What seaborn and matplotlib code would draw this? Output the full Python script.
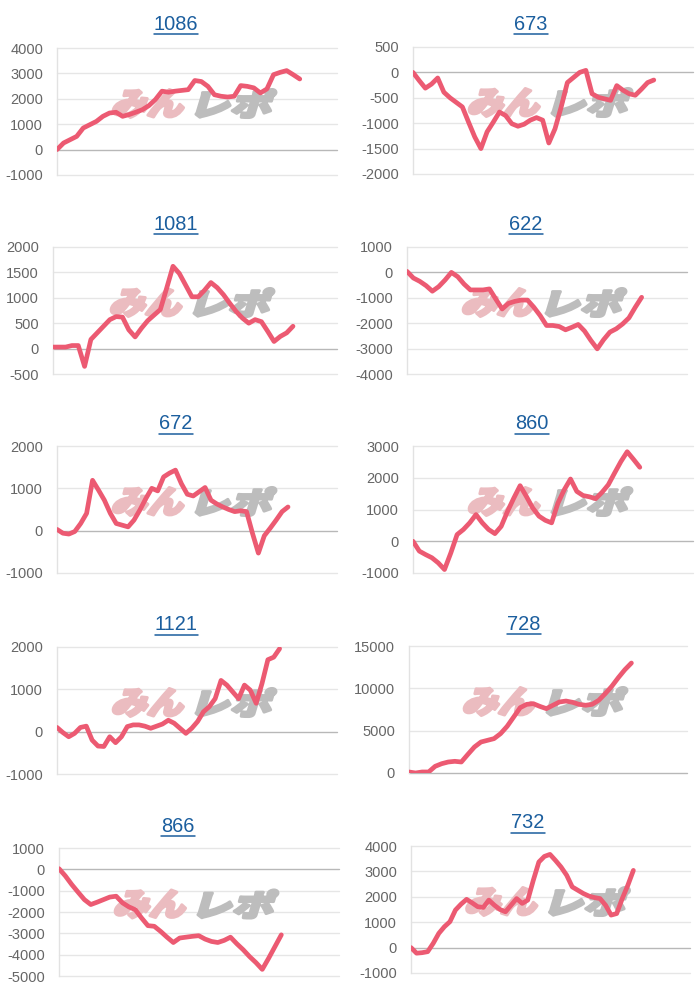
import numpy as np
import pandas as pd
import matplotlib
matplotlib.use("Agg")
import matplotlib.pyplot as plt
import seaborn as sns
from matplotlib.textpath import TextPath
from matplotlib.font_manager import FontProperties
from matplotlib.patches import PathPatch
from matplotlib.transforms import Affine2D, IdentityTransform
from matplotlib.lines import Line2D

# ---------------- data ----------------
titles = ["1086", "673", "1081", "622", "672", "860", "1121", "728", "866", "732"]

s1086 = [0, 260, 390, 520, 850, 980, 1110, 1310, 1440, 1470, 1310, 1380, 1470, 1570, 1730, 1970,
         2300, 2260, 2300, 2330, 2360, 2720, 2680, 2490, 2160, 2100, 2070, 2100, 2520, 2490, 2430,
         2230, 2390, 2950, 3040, 3110, 2950, 2780]
s673 = [0, -160, -310, -230, -110, -390, -500, -590, -680, -980, -1270, -1500, -1170, -980, -780,
        -850, -1010, -1060, -1020, -940, -890, -940, -1390, -1110, -680, -200, -100, 0, 40, -420,
        -490, -520, -550, -260, -350, -420, -450, -330, -200, -150]
s1081 = [30, 30, 30, 60, 60, -350, 180, 310, 440, 570, 630, 620, 370, 230, 400, 550, 660, 770, 1190,
         1620, 1480, 1250, 1020, 1020, 1150, 1300, 1200, 1060, 890, 730, 600, 500, 570, 530, 340,
         140, 240, 310, 440]
s622 = [40, -220, -350, -520, -740, -560, -300, 0, -170, -460, -690, -690, -690, -650, -1050, -1440,
        -1220, -1140, -1090, -1090, -1370, -1700, -2090, -2090, -2130, -2260, -2160, -2050, -2310,
        -2680, -3010, -2650, -2350, -2220, -2030, -1790, -1370, -980]
s672 = [30, -60, -80, -20, 170, 410, 1190, 960, 720, 410, 170, 130, 90, 250, 490, 760, 1000, 940,
        1270, 1360, 1430, 1110, 860, 820, 920, 1020, 720, 630, 560, 500, 450, 470, 450, -60, -530,
        -120, 60, 250, 450, 560]
s860 = [0, -310, -420, -520, -680, -890, -370, 210, 370, 580, 840, 580, 370, 240, 470, 940, 1360,
        1750, 1410, 1050, 790, 660, 580, 1200, 1620, 1960, 1570, 1440, 1400, 1340, 1540, 1780, 2150,
        2510, 2820, 2580, 2330]
s1121 = [100, -20, -120, -40, 100, 130, -200, -340, -350, -120, -260, -120, 120, 160, 160, 130, 80,
         130, 180, 270, 200, 80, -40, 80, 240, 470, 590, 780, 1210, 1100, 940, 780, 1100, 980, 670,
         1140, 1700, 1760, 1960]
s728 = [120, 0, 120, 120, 790, 1100, 1300, 1380, 1300, 2200, 3070, 3660, 3860, 4060, 4650, 5510,
        6610, 7720, 8110, 8190, 7870, 7600, 8000, 8390, 8500, 8350, 8110, 8000, 8110, 8580, 9370,
        10240, 11260, 12200, 12990]
s866 = [30, -310, -710, -1070, -1420, -1650, -1540, -1420, -1300, -1260, -1570, -1760, -1890, -2280,
        -2640, -2670, -2910, -3180, -3430, -3220, -3180, -3140, -3110, -3270, -3380, -3430, -3330,
        -3180, -3490, -3770, -4090, -4370, -4690, -4170, -3620, -3070]
s732 = [0, -220, -200, -160, 170, 560, 820, 1020, 1480, 1710, 1900, 1760, 1610, 1580, 1870, 1670,
        1500, 1410, 1670, 1930, 1740, 1870, 2650, 3370, 3590, 3670, 3430, 3170, 2850, 2390, 2260,
        2130, 2030, 1970, 1930, 1670, 1280, 1340, 1930, 2450, 3040]

series = [s1086, s673, s1081, s622, s672, s860, s1121, s728, s866, s732]

y_min = [-1000, -2000, -500, -4000, -1000, -1000, -1000, 0, -5000, -1000]
y_max = [4000, 500, 2000, 1000, 2000, 3000, 2000, 15000, 1000, 4000]
y_step = [1000, 500, 500, 1000, 1000, 1000, 1000, 5000, 1000, 1000]

# ---------------- layout (pixels: left, top, right, bottom) ----------------
boxes = [(57, 48, 337, 175), (413, 47, 693, 174),
         (53, 247, 337, 374), (407, 247, 687, 374),
         (57, 446, 337, 573), (413, 446, 693, 573),
         (57, 647, 337, 774), (409, 646, 687, 773),
         (59, 848, 339, 976), (411, 846, 690, 973)]
end_frac = [0.867, 0.86, 0.845, 0.838, 0.825, 0.81, 0.795, 0.80, 0.794, 0.797]
title_pos = [(176, 24), (531, 24), (176, 224), (526, 224), (176, 424), (532, 424),
             (176, 625), (524, 624), (178, 826), (528, 823)]

W, H = 700, 1000
LINE = "#EC5A72"
TITLE_C = "#1b5e9e"

sns.set_theme(style="white")
plt.rcParams["font.family"] = ["Liberation Sans", "DejaVu Sans"]

fig = plt.figure(figsize=(7, 10), dpi=100)
fig.patch.set_facecolor("white")

fp_wm = FontProperties(family="Noto Sans CJK JP", weight="heavy")


def add_wm(ax, text, x0, ytop, w, h, color):
    tp = TextPath((0, 0), text, size=100, prop=fp_wm)
    ext = tp.get_extents()
    shear = 0.3
    wi = w - h * shear
    tr = (Affine2D().translate(-ext.x0, -ext.y0)
          .scale(wi / ext.width, h / ext.height)
          .skew(np.arctan(shear), 0)
          .translate(x0, H - ytop - h))
    path = tr.transform_path(tp)
    p = PathPatch(path, facecolor=color, edgecolor=color, linewidth=2.2,
                  joinstyle="round", transform=IdentityTransform(), zorder=1)
    ax.add_artist(p)


titles_art = []
for i, (vals, box) in enumerate(zip(series, boxes)):
    l, t, r, b = box
    ax = fig.add_axes([l / W, 1 - b / H, (r - l) / W, (b - t) / H])
    df = pd.DataFrame({"x": np.arange(len(vals)), "y": vals})
    sns.lineplot(data=df, x="x", y="y", ax=ax, color=LINE, linewidth=3.4,
                 estimator=None, zorder=3, solid_joinstyle="round", solid_capstyle="round")
    n = len(vals)
    ax.set_xlim(0, (n - 1) / end_frac[i])
    ax.set_ylim(y_min[i], y_max[i])
    ticks = np.arange(y_min[i], y_max[i] + 1, y_step[i])
    ax.set_yticks(ticks)
    ax.set_yticklabels([f"{int(v)}" for v in ticks])
    ax.set_xticks([])
    ax.set_xlabel("")
    ax.set_ylabel("")
    ax.tick_params(axis="y", length=0, pad=10, labelsize=10.5, labelcolor="#666666")
    for s in ["top", "right", "bottom"]:
        ax.spines[s].set_visible(False)
    ax.spines["left"].set_color("#e2e2e2")
    ax.spines["left"].set_linewidth(1)
    for v in ticks:
        if v == 0:
            ax.axhline(v, color="#b8b8b8", lw=1, zorder=2, clip_on=False)
        else:
            ax.axhline(v, color="#e6e6e6", lw=1, zorder=0.5, clip_on=False)
    ax.set_facecolor("none")
    # watermark
    cx = (l + r) / 2 - 4
    cy = (t + b) / 2 - 8
    add_wm(ax, "みん", cx - 82, cy - 14, 78, 28, "#ebbcc0")
    add_wm(ax, "レポ", cx + 2, cy - 14, 82, 28, "#bdbdbd")

    tx, ty = title_pos[i]
    txt = fig.text(tx / W, 1 - ty / H, titles[i], ha="center", va="center",
                   fontsize=14.4, color=TITLE_C)
    titles_art.append(txt)

fig.canvas.draw()
renderer = fig.canvas.get_renderer()
for i, txt in enumerate(titles_art):
    bb = txt.get_window_extent(renderer)
    tx, ty = title_pos[i]
    yline = H - (ty + 9.5)
    fig.add_artist(Line2D([bb.x0, bb.x1], [yline, yline], color=TITLE_C, lw=1.1,
                          transform=IdentityTransform()))

fig.savefig("out.png", dpi=100)
